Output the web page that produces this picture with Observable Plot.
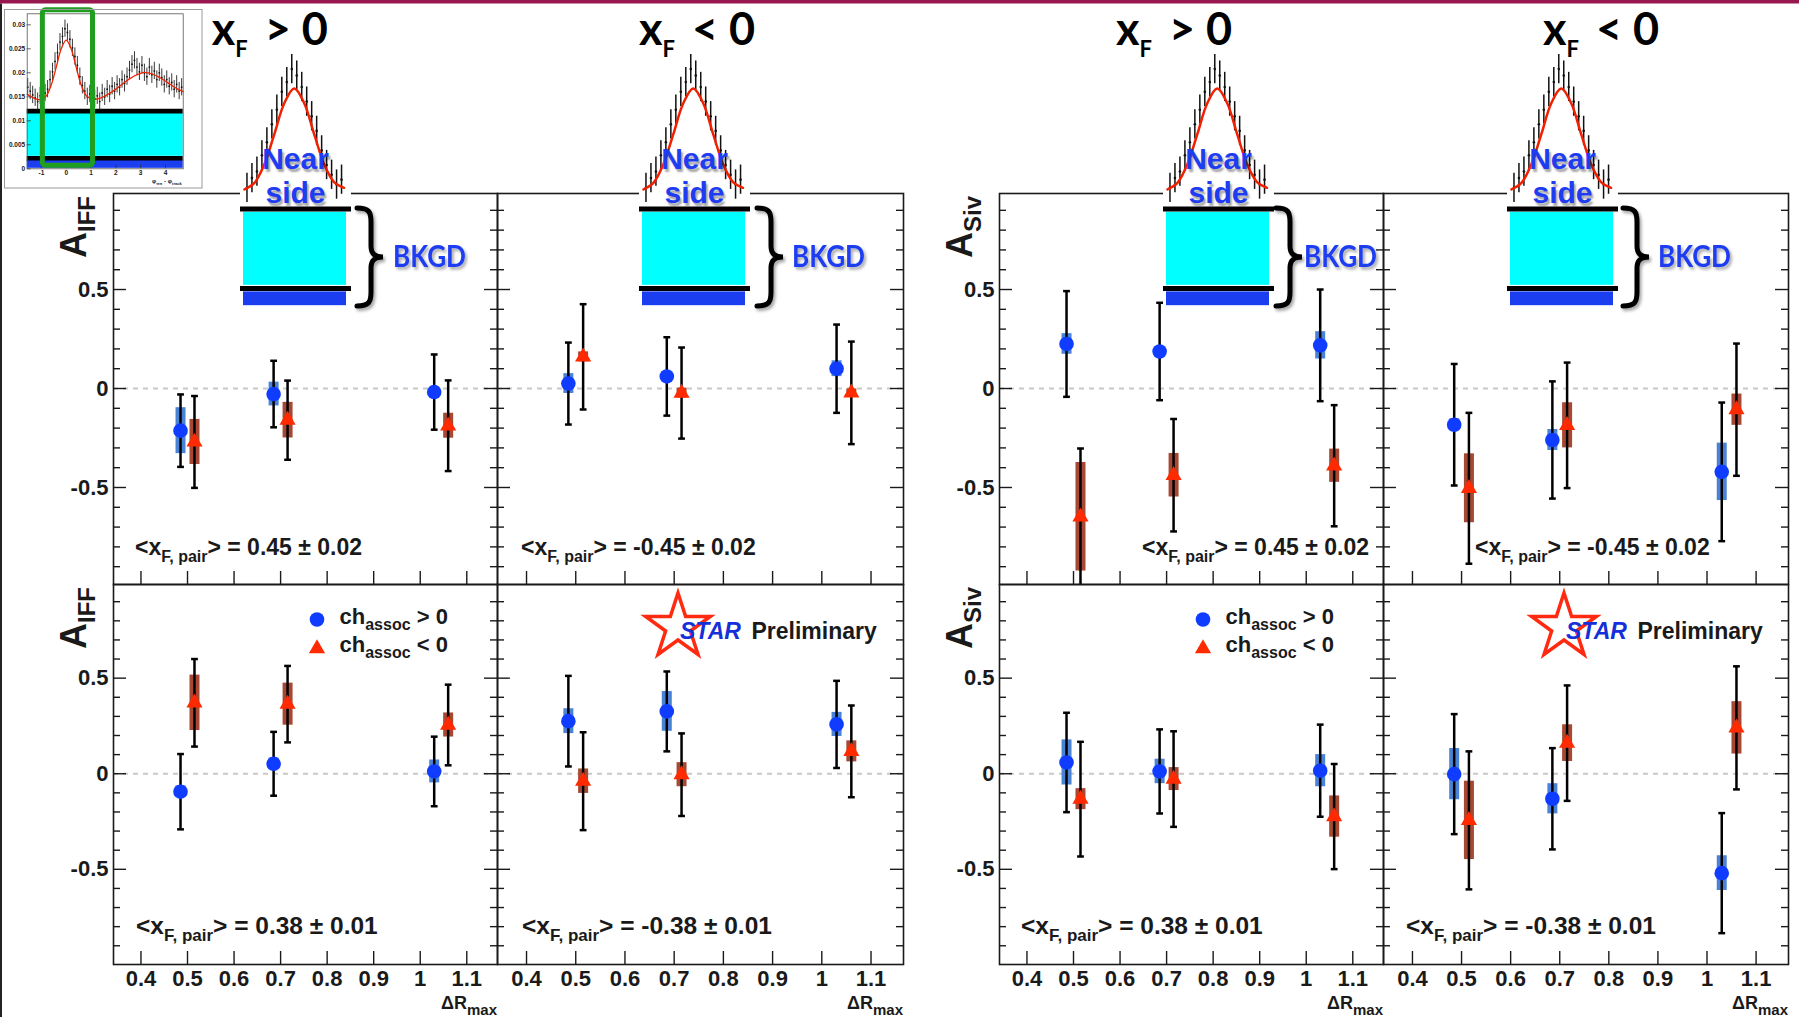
<!DOCTYPE html>
<html>
<head>
<meta charset="utf-8">
<title>A_IFF and A_Siv vs ΔR_max</title>
<script src="https://cdn.jsdelivr.net/npm/d3@7"></script>
<script src="https://cdn.jsdelivr.net/npm/@observablehq/plot@0.6"></script>
<style>
  html, body { margin: 0; padding: 0; background: #fff; }
  #slide { position: relative; width: 1799px; height: 1017px; overflow: hidden; background: #fff; }
  #slide > svg { position: absolute; }
  .near-label {
    position: absolute; width: 110px; text-align: center;
    font: 700 30px/34px 'Liberation Sans', Arial, sans-serif; color: #1e3cf2;
    text-shadow: 2px 2.5px 2px rgba(0, 0, 0, 0.35);
    white-space: nowrap;
  }
</style>
</head>
<body>
<div id="slide"></div>
<script>
// ---------------- measured asymmetries ----------------
// ΔR_max positions of the two associated-charge samples
const dRmaxPos = [0.485, 0.685, 1.03];   // ch_assoc > 0
const dRmaxNeg = [0.515, 0.715, 1.06];   // ch_assoc < 0

// A_IFF, <x_F,pair> = 0.45
const iff045PosVal = [-0.213, -0.028, -0.018];
const iff045PosStat = [0.183, 0.168, 0.19];
const iff045PosSys = [0.116, 0.06, 0.025];
const iff045NegVal = [-0.27, -0.16, -0.188];
const iff045NegStat = [0.232, 0.2, 0.229];
const iff045NegSys = [0.114, 0.09, 0.063];
// A_IFF, <x_F,pair> = -0.45
const iffM045PosVal = [0.025, 0.061, 0.1];
const iffM045PosStat = [0.207, 0.198, 0.223];
const iffM045PosSys = [0.05, 0.02, 0.04];
const iffM045NegVal = [0.16, -0.023, -0.022];
const iffM045NegStat = [0.266, 0.23, 0.259];
const iffM045NegSys = [0.025, 0.025, 0.02];
// A_IFF, <x_F,pair> = 0.38
const iff038PosVal = [-0.094, 0.052, 0.012];
const iff038PosStat = [0.197, 0.167, 0.182];
const iff038PosSys = [0.03, 0.03, 0.06];
const iff038NegVal = [0.371, 0.364, 0.255];
const iff038NegStat = [0.229, 0.2, 0.211];
const iff038NegSys = [0.145, 0.11, 0.063];
// A_IFF, <x_F,pair> = -0.38
const iffM038PosVal = [0.275, 0.326, 0.258];
const iffM038PosStat = [0.237, 0.209, 0.228];
const iffM038PosSys = [0.065, 0.104, 0.063];
const iffM038NegVal = [-0.039, -0.005, 0.117];
const iffM038NegStat = [0.256, 0.216, 0.24];
const iffM038NegSys = [0.064, 0.063, 0.055];
// A_Siv, <x_F,pair> = 0.45
const siv045PosVal = [0.225, 0.187, 0.218];
const siv045PosStat = [0.267, 0.246, 0.282];
const siv045PosSys = [0.052, 0.025, 0.069];
const siv045NegVal = [-0.648, -0.438, -0.39];
const siv045NegStat = [0.345, 0.284, 0.306];
const siv045NegSys = [0.274, 0.11, 0.084];
// A_Siv, <x_F,pair> = -0.45
const sivM045PosVal = [-0.183, -0.26, -0.421];
const sivM045PosStat = [0.307, 0.296, 0.35];
const sivM045PosSys = [0.03, 0.053, 0.145];
const sivM045NegVal = [-0.504, -0.186, -0.107];
const sivM045NegStat = [0.381, 0.317, 0.334];
const sivM045NegSys = [0.174, 0.114, 0.079];
// A_Siv, <x_F,pair> = 0.38
const siv038PosVal = [0.059, 0.012, 0.016];
const siv038PosStat = [0.26, 0.22, 0.241];
const siv038PosSys = [0.118, 0.064, 0.084];
const siv038NegVal = [-0.133, -0.028, -0.224];
const siv038NegStat = [0.3, 0.25, 0.275];
const siv038NegSys = [0.055, 0.06, 0.108];
// A_Siv, <x_F,pair> = -0.38
const sivM038PosVal = [-0.002, -0.131, -0.52];
const sivM038PosStat = [0.314, 0.265, 0.314];
const sivM038PosSys = [0.134, 0.079, 0.091];
const sivM038NegVal = [-0.244, 0.16, 0.24];
const sivM038NegStat = [0.361, 0.302, 0.322];
const sivM038NegSys = [0.205, 0.096, 0.137];

// tick values and labels
const xTickValues = [0.4, 0.5, 0.6, 0.7, 0.8, 0.9, 1, 1.1];
const yMajorTicks = [-0.5, 0, 0.5];
const yMinorTicks = [-0.9, -0.8, -0.7, -0.6, -0.4, -0.3, -0.2, -0.1, 0.1, 0.2, 0.3, 0.4, 0.6, 0.7, 0.8, 0.9];
const xfPairLabels = ["0.45 ± 0.02", "-0.45 ± 0.02", "0.38 ± 0.01", "-0.38 ± 0.01"];
const titleSigns = [">", "<", ">", "<"];

// Δφ correlation histogram (yield ×10⁻³), bins of 0.1 starting at -1.55
const PHI_BIN0 = -1.55, PHI_BINW = 0.1;
const dihadronYield = [17.0, 16.2, 15.4, 14.8, 14.0, 15.2, 14.6, 15.8, 16.6, 18.6,
  20.2, 22.4, 24.2, 26.4, 27.6, 29.2, 28.4, 27.0, 25.2, 23.4,
  21.6, 19.2, 17.4, 16.2, 15.0, 15.6, 14.2, 14.6, 15.2, 14.0,
  15.8, 15.0, 16.6, 15.6, 17.2, 16.2, 17.6, 17.0, 18.6, 17.8,
  19.2, 20.6, 21.8, 22.6, 21.2, 20.2, 21.6, 20.0, 19.2, 21.2,
  19.6, 20.4, 18.6, 20.0, 19.0, 17.6, 18.6, 17.2, 18.0, 16.6,
  17.6, 16.2, 17.0];
const histErr = 0.0018;
// fitted curve read at these Δφ values (yield ×10⁻³)
const fitPhi = [-1.57, -1.4, -1.2, -1.0, -0.8, -0.6, -0.4, -0.2, 0, 0.2, 0.4, 0.6, 0.8, 1.0, 1.2, 1.4, 1.6,
  1.8, 2.0, 2.2, 2.4, 2.6, 2.8, 3.0, 3.14, 3.3, 3.5, 3.7, 3.9, 4.1, 4.3, 4.5, 4.71];
const fitYield = [15.5, 15.0, 14.5, 14.4, 15.2, 17.5, 21.2, 25.0, 26.8, 25.0, 21.2, 17.5, 15.3, 14.6, 14.5, 14.8, 15.3,
  15.9, 16.6, 17.4, 18.2, 18.9, 19.5, 19.9, 20.1, 20.0, 19.7, 19.2, 18.6, 17.9, 17.2, 16.6, 16.1];
// background bands
const cyanBand = [0.0026, 0.0116];
const blueBand = [0.0001, 0.0018];
const bkgdLines = [0.0022, 0.0120];
const nearWindow = [-0.94, 1.08];
const insetYTicks = [0, 0.005, 0.01, 0.015, 0.02, 0.025, 0.03];
const insetXTicks = [-1, 0, 1, 2, 3, 4];

// ---------------- styling / layout ----------------
const ROOT_FONT = "'Liberation Sans', Arial, Helvetica, sans-serif";
const SLIDE_FONT = "Lato, 'Open Sans', sans-serif";
const INK = "#1a1a1a";
const BLUE = "#0f3cff", RED = "#ff2a00";
const SYS_BLUE = "#4a82d6", SYS_RED = "#a64833";
const SLIDE_BLUE = "#1e3cf2";
const X_DOMAIN = [0.341, 1.166];

const COLS = [{x0: 113, x1: 497}, {x0: 497, x1: 903}, {x0: 999, x1: 1383}, {x0: 1383, x1: 1788}];
const ROWS = [{y0: 193, y1: 584, domain: [-0.99, 0.985]}, {y0: 584, y1: 964, domain: [-0.998, 0.99]}];

const PANELS = [
  {col: 0, row: 0, asym: "IFF", pos: [iff045PosVal, iff045PosStat, iff045PosSys], neg: [iff045NegVal, iff045NegStat, iff045NegSys], xf: xfPairLabels[0], xfDx: 22},
  {col: 1, row: 0, asym: "IFF", pos: [iffM045PosVal, iffM045PosStat, iffM045PosSys], neg: [iffM045NegVal, iffM045NegStat, iffM045NegSys], xf: xfPairLabels[1], xfDx: 24},
  {col: 0, row: 1, asym: "IFF", pos: [iff038PosVal, iff038PosStat, iff038PosSys], neg: [iff038NegVal, iff038NegStat, iff038NegSys], xf: xfPairLabels[2], xfDx: 23, legend: true},
  {col: 1, row: 1, asym: "IFF", pos: [iffM038PosVal, iffM038PosStat, iffM038PosSys], neg: [iffM038NegVal, iffM038NegStat, iffM038NegSys], xf: xfPairLabels[3], xfDx: 25, star: true},
  {col: 2, row: 0, asym: "Siv", pos: [siv045PosVal, siv045PosStat, siv045PosSys], neg: [siv045NegVal, siv045NegStat, siv045NegSys], xf: xfPairLabels[0], xfDx: 143},
  {col: 3, row: 0, asym: "Siv", pos: [sivM045PosVal, sivM045PosStat, sivM045PosSys], neg: [sivM045NegVal, sivM045NegStat, sivM045NegSys], xf: xfPairLabels[1], xfDx: 92},
  {col: 2, row: 1, asym: "Siv", pos: [siv038PosVal, siv038PosStat, siv038PosSys], neg: [siv038NegVal, siv038NegStat, siv038NegSys], xf: xfPairLabels[2], xfDx: 22, legend: true},
  {col: 3, row: 1, asym: "Siv", pos: [sivM038PosVal, sivM038PosStat, sivM038PosSys], neg: [sivM038NegVal, sivM038NegStat, sivM038NegSys], xf: xfPairLabels[3], xfDx: 23, star: true}
];

// near-side sketches sitting on each upper panel
const miniLeft = [240, 639, 1163, 1507];
const braceX = [357, 757, 1276, 1623];
const bkgdX = [393, 792, 1304, 1658];
const titleX = [211.7, 639, 1116, 1543];

const slide = document.getElementById("slide");

function place(svg, left, top) {
  svg.style.position = "absolute";
  svg.style.left = left + "px";
  svg.style.top = top + "px";
  slide.appendChild(svg);
}

function series(xs, [vals, stat, sys]) {
  return xs.map((x, i) => ({x, v: vals[i], stat: stat[i], sys: sys[i]}));
}

// short horizontal bar used as error-bar cap
const capSymbol = {
  draw(ctx, size) {
    const r = Math.sqrt(size / Math.PI);
    ctx.moveTo(-r, 0);
    ctx.lineTo(r, 0);
  }
};

function addText(sel, x, y, parts, opts = {}) {
  const t = sel.append("text")
    .attr("x", x).attr("y", y)
    .attr("font-family", opts.family || ROOT_FONT)
    .attr("font-weight", opts.weight || "bold")
    .attr("fill", opts.fill || INK)
    .attr("text-anchor", opts.anchor || "start");
  if (opts.italic) t.attr("font-style", "italic");
  if (opts.transform) t.attr("transform", opts.transform);
  for (const [str, size, dy = 0] of parts) {
    t.append("tspan").attr("font-size", size).attr("dy", dy).text(str);
  }
  return t;
}

// ---------------- asymmetry panels ----------------
function drawPanel(p) {
  const col = COLS[p.col], row = ROWS[p.row];
  const ml = 80, mr = 20, mt = 20, mb = 60;
  const fw = col.x1 - col.x0, fh = row.y1 - row.y0;
  const [lo, hi] = row.domain;
  const clampY = v => Math.max(lo, Math.min(hi, v));
  const pos = series(dRmaxPos, p.pos);
  const neg = series(dRmaxNeg, p.neg);
  const both = pos.concat(neg);
  const caps = both.flatMap(d => [{x: d.x, y: d.v - d.stat}, {x: d.x, y: d.v + d.stat}])
    .filter(d => d.y >= lo && d.y <= hi);
  const leftCol = p.col % 2 === 0;
  const bottomRow = p.row === 1;

  const marks = [
    Plot.ruleY([0], {y: d => d, stroke: "#c8c8c8", strokeWidth: 2, strokeDasharray: "5,5"}),
    Plot.tickY(yMinorTicks, {y: d => d, insetRight: fw - 7, stroke: INK, strokeWidth: 1.4}),
    Plot.tickY(yMinorTicks, {y: d => d, insetLeft: fw - 7, stroke: INK, strokeWidth: 1.4}),
    Plot.tickY(yMajorTicks, {y: d => d, insetRight: fw - 13, stroke: INK, strokeWidth: 1.4}),
    Plot.tickY(yMajorTicks, {y: d => d, insetLeft: fw - 13, stroke: INK, strokeWidth: 1.4}),
    Plot.tickX(xTickValues, {x: d => d, insetTop: fh - 13, stroke: INK, strokeWidth: 1.4}),
    Plot.ruleX(pos, {x: "x", y1: d => clampY(d.v - d.sys), y2: d => clampY(d.v + d.sys), stroke: SYS_BLUE, strokeWidth: 10}),
    Plot.ruleX(neg, {x: "x", y1: d => clampY(d.v - d.sys), y2: d => clampY(d.v + d.sys), stroke: SYS_RED, strokeWidth: 10}),
    Plot.ruleX(both, {x: "x", y1: d => clampY(d.v - d.stat), y2: d => clampY(d.v + d.stat), stroke: "#000", strokeWidth: 2.5}),
    Plot.dot(caps, {x: "x", y: "y", symbol: capSymbol, r: 3.4, stroke: "#000", strokeWidth: 2.5, fill: "none"}),
    Plot.dot(pos, {x: "x", y: "v", r: 7.3, fill: BLUE}),
    Plot.dot(neg, {x: "x", y: "v", symbol: "triangle", r: 6, fill: RED}),
    Plot.frame({stroke: INK, strokeWidth: 1.6})
  ];
  if (leftCol) marks.push(Plot.axisY({ticks: yMajorTicks, tickSize: 0, tickPadding: 5, tickFormat: d => String(d), fontSize: 22, fontWeight: "bold", label: null}));
  if (bottomRow) marks.push(Plot.axisX({ticks: xTickValues, tickSize: 0, tickPadding: 6, tickFormat: d => String(d), fontSize: 22, fontWeight: "bold", label: null}));

  const xOpts = {domain: X_DOMAIN};
  if (!bottomRow) xOpts.axis = null;
  const yOpts = {domain: row.domain};
  if (!leftCol) yOpts.axis = null;

  const svg = Plot.plot({
    width: fw + ml + mr, height: fh + mt + mb,
    marginLeft: ml, marginRight: mr, marginTop: mt, marginBottom: mb,
    x: xOpts, y: yOpts,
    style: {background: "none", overflow: "visible", fontFamily: ROOT_FONT, color: INK},
    marks
  });

  const g = d3.select(svg).append("g");
  if (leftCol) {
    addText(g, 0, 0, [["A", 36], [p.asym, 24, 9]],
      {anchor: "end", transform: `translate(${ml - 27},${mt + 3}) rotate(-90)`});
  }
  const [big, small] = bottomRow ? [24.5, 17] : [23, 16];
  addText(g, ml + p.xfDx, mt + fh - (bottomRow ? 30 : 29),
    [["<x", big], ["F, pair", small, 7], ["> = " + p.xf, big, -7]]);
  if (bottomRow) {
    addText(g, ml + fw, mt + fh + 45, [["ΔR", 18], ["max", 15, 6]], {anchor: "end"});
  }
  if (p.legend) {
    const lx = ml + 204, ly = mt + 35.5;
    g.append("circle").attr("cx", lx).attr("cy", ly).attr("r", 7.3).attr("fill", BLUE);
    g.append("path").attr("transform", `translate(${lx},${ly + 29})`)
      .attr("d", d3.symbol(d3.symbolTriangle, Math.PI * 36)()).attr("fill", RED);
    addText(g, lx + 22.5, ly + 4, [["ch", 22], ["assoc", 16, 6], [" > 0", 22, -6]]);
    addText(g, lx + 22.5, ly + 32, [["ch", 22], ["assoc", 16, 6], [" < 0", 22, -6]]);
  }
  if (p.star) {
    const cx = ml + 181, cy = mt + 43;
    const pts = d3.range(10).map(i => {
      const a = -Math.PI / 2 + i * Math.PI / 5, r = i % 2 ? 13 : 34;
      return [cx + r * Math.cos(a), cy + r * Math.sin(a)];
    });
    g.append("polygon").attr("points", pts.map(q => q.join(",")).join(" "))
      .attr("fill", "none").attr("stroke", "#ff2a10").attr("stroke-width", 3.5);
    addText(g, ml + 183, mt + 55, [["STAR", 23]], {fill: "#1530d8", italic: true});
    addText(g, ml + 254.5, mt + 55, [["Preliminary", 23]]);
  }
  place(svg, col.x0 - ml, row.y0 - mt);
}

// ---------------- Δφ correlation inset ----------------
function drawInset() {
  const W = 205, H = 192;
  const fx0 = 26.7, fx1 = 182.7, fy0 = 13.3, fy1 = 168.3;
  const fw = fx1 - fx0, fh = fy1 - fy0;
  const dom = [-Math.PI / 2, 3 * Math.PI / 2];
  const yTop = 0.0323;
  const bins = dihadronYield.map((v, i) => ({phi: PHI_BIN0 + i * PHI_BINW, v: v / 1000}));
  const fit = fitPhi.map((phi, i) => ({phi, v: fitYield[i] / 1000}));
  const svg = Plot.plot({
    width: W, height: H,
    marginLeft: fx0, marginRight: W - fx1, marginTop: fy0, marginBottom: H - fy1,
    x: {domain: dom}, y: {domain: [0, yTop]},
    style: {background: "none", overflow: "visible", fontFamily: ROOT_FONT, color: INK},
    marks: [
      Plot.rect([cyanBand], {x1: dom[0], x2: dom[1], y1: d => d[0], y2: d => d[1], fill: "#00ffff"}),
      Plot.rect([blueBand], {x1: dom[0], x2: dom[1], y1: d => d[0], y2: d => d[1], fill: "#1a3ef0"}),
      Plot.ruleY(bkgdLines, {y: d => d, stroke: "#000", strokeWidth: 4.7}),
      Plot.ruleX(bins, {x: "phi", y1: d => d.v - histErr, y2: d => d.v + histErr, stroke: "#222", strokeWidth: 0.9}),
      Plot.dot(bins, {x: "phi", y: "v", r: 0.9, fill: "#111"}),
      Plot.line(fit, {x: "phi", y: "v", stroke: "#ee2200", strokeWidth: 1.3, curve: "catmull-rom"}),
      Plot.tickY(insetYTicks, {y: d => d, insetRight: fw - 4, stroke: "#333", strokeWidth: 0.8}),
      Plot.tickX(insetXTicks, {x: d => d, insetTop: fh - 4, stroke: "#333", strokeWidth: 0.8}),
      Plot.frame({stroke: "#555", strokeWidth: 0.8}),
      Plot.axisY({ticks: insetYTicks, tickSize: 0, tickPadding: 2, tickFormat: d => String(d), fontSize: 6.5, fontWeight: "bold", label: null}),
      Plot.axisX({ticks: insetXTicks, tickSize: 0, tickPadding: 2, tickFormat: d => String(d), fontSize: 6.5, fontWeight: "bold", label: null}),
      Plot.rect([nearWindow], {x1: d => d[0], x2: d => d[1], y1: 0, y2: yTop, insetTop: -3.5, insetBottom: 3,
        fill: "none", stroke: "#1f9e1f", strokeWidth: 5, rx: 3})
    ]
  });
  addText(d3.select(svg), 152, 183, [["φ", 6], ["ππ", 4, 1.5], [" - φ", 6, -1.5], ["track", 4, 1.5]]);
  place(svg, 0, 0);
}

// ---------------- near-side sketches ----------------
function drawMini(left) {
  const W = 111, H = 264, top = 42;
  const dom = [-1.08, 1.15];
  const yTop = 0.03247;
  const bins = dihadronYield.map((v, i) => ({phi: PHI_BIN0 + i * PHI_BINW, v: v / 1000}))
    .filter(d => d.phi > -1 && d.phi < 1);
  const fit = fitPhi.map((phi, i) => ({phi, v: fitYield[i] / 1000}))
    .filter(d => d.phi >= -1 && d.phi <= 1);
  const svg = Plot.plot({
    width: W, height: H, margin: 0,
    x: {domain: dom, axis: null}, y: {domain: [0, yTop], axis: null},
    style: {background: "none", overflow: "visible"},
    marks: [
      Plot.rect([bkgdLines[1]], {x1: dom[0], x2: dom[1], y1: d => d, y2: yTop, fill: "white"}),
      Plot.rect([cyanBand], {x1: dom[0], x2: dom[1], y1: d => d[0], y2: d => d[1], insetLeft: 3, insetRight: 5, fill: "#00ffff", ariaLabel: "bkgd"}),
      Plot.rect([blueBand], {x1: dom[0], x2: dom[1], y1: d => d[0], y2: d => d[1], insetLeft: 3, insetRight: 5, fill: "#1a3ef0", ariaLabel: "bkgd"}),
      Plot.ruleY(bkgdLines, {y: d => d, stroke: "#000", strokeWidth: 5, ariaLabel: "bkgd"}),
      Plot.ruleX(bins, {x: "phi", y1: d => Math.max(d.v - histErr, bkgdLines[1]), y2: d => d.v + histErr, stroke: "#111", strokeWidth: 1.5}),
      Plot.dot(bins, {x: "phi", y: "v", r: 1.3, fill: "#111"}),
      Plot.line(fit, {x: "phi", y: "v", stroke: "#f02000", strokeWidth: 2.5, curve: "catmull-rom"})
    ]
  });
  d3.select(svg).selectAll('g[aria-label="bkgd"]').style("filter", "drop-shadow(2px 3px 2px rgba(0,0,0,0.3))");
  place(svg, left, top);
}

PANELS.forEach(drawPanel);
drawInset();
miniLeft.forEach(drawMini);

// "Near side" captions: one two-line block per sketch
miniLeft.forEach(left => {
  const div = document.createElement("div");
  div.className = "near-label";
  div.style.left = (left + 0.5) + "px";
  div.style.top = "142px";
  div.innerHTML = "Near<br>side";
  slide.appendChild(div);
});

// ---------------- slide overlay: titles, braces, BKGD ----------------
const ov = d3.create("svg").attr("width", 1799).attr("height", 1017)
  .style("position", "absolute").style("left", "0px").style("top", "0px");
ov.append("defs").append("filter").attr("id", "txt-shadow")
  .attr("x", "-20%").attr("y", "-20%").attr("width", "150%").attr("height", "150%")
  .append("feDropShadow").attr("dx", 2).attr("dy", 2.5).attr("stdDeviation", 1.4)
  .attr("flood-color", "#000").attr("flood-opacity", 0.35);

ov.append("rect").attr("x", 0).attr("y", 0).attr("width", 1799).attr("height", 3.5).attr("fill", "#97184f");
ov.append("rect").attr("x", 0).attr("y", 3.5).attr("width", 2).attr("height", 1013.5).attr("fill", "#222");
ov.append("rect").attr("x", 4.5).attr("y", 9.5).attr("width", 197.5).attr("height", 178.5)
  .attr("fill", "none").attr("stroke", "#9a9a9a").attr("stroke-width", 1);

// one <text> per label; each tspan carries its own absolute position and size
function slideLabel(pieces, opts = {}) {
  const t = ov.append("text")
    .attr("font-family", SLIDE_FONT).attr("font-weight", 700)
    .attr("fill", opts.fill || "#000").attr("text-anchor", opts.anchor || "start");
  if (opts.shadow) t.attr("filter", "url(#txt-shadow)");
  for (const pc of pieces) {
    const ts = t.append("tspan").attr("x", pc.x).attr("y", pc.y).attr("font-size", pc.size).text(pc.s);
    if (pc.length) ts.attr("textLength", pc.length).attr("lengthAdjust", "spacingAndGlyphs");
  }
  return t;
}

titleX.forEach((x0, i) => {
  slideLabel([
    {x: x0, y: 45, s: "x", size: 45},
    {x: x0 + 23.5, y: 57, s: "F", size: 22},
    {x: x0 + 53, y: 45, s: titleSigns[i], size: 45},
    {x: x0 + 90, y: 45, s: "0", size: 45}
  ]);
});

miniLeft.forEach((left, i) => {
  const bx = braceX[i];
  ov.append("path")
    .attr("d", `M${bx},208 C${bx + 12},208 ${bx + 14},212 ${bx + 14},222 L${bx + 14},246 ` +
      `C${bx + 14},254 ${bx + 18},257 ${bx + 26},257 C${bx + 18},257 ${bx + 14},260 ${bx + 14},268 ` +
      `L${bx + 14},292 C${bx + 14},302 ${bx + 12},306 ${bx},306`)
    .attr("fill", "none").attr("stroke", "#000").attr("stroke-width", 5)
    .attr("stroke-linecap", "round").attr("filter", "url(#txt-shadow)");
  slideLabel([{x: bkgdX[i], y: 267, s: "BKGD", size: 30, length: 73}], {fill: SLIDE_BLUE, shadow: true});
});

slide.appendChild(ov.node());
</script>
</body>
</html>
